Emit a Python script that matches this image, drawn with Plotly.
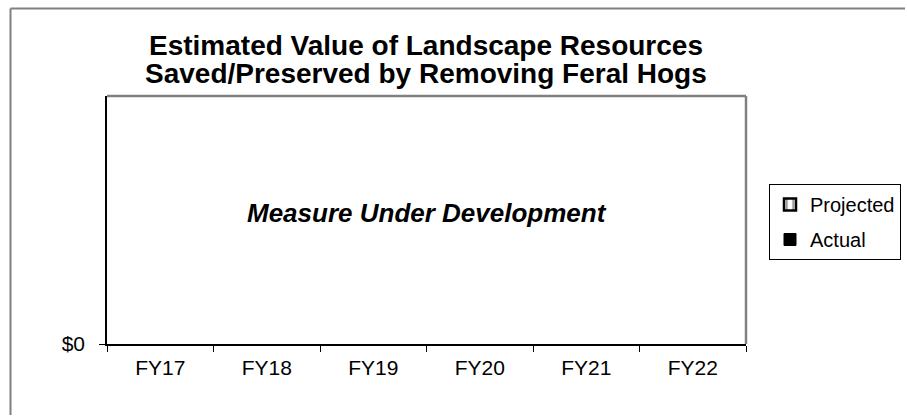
import plotly.graph_objects as go

categories = ["FY17", "FY18", "FY19", "FY20", "FY21", "FY22"]
projected = [None, None, None, None, None, None]
actual = [None, None, None, None, None, None]
y_tick_vals = [0]
y_tick_text = ["$0"]
title_lines = ["Estimated Value of Landscape Resources", "Saved/Preserved by Removing Feral Hogs"]
note_text = "Measure Under Development"

W, H = 907, 417
L, R, T, B = 107, 746, 96, 344

def px(x):
    return (x - L) / (R - L)

def py(y):
    return (B - y) / (B - T)

fig = go.Figure()
fig.add_trace(go.Bar(
    x=categories, y=projected, name="Projected", legendgroup="p",
    marker=dict(color="white", line=dict(color="black", width=2.5),
                pattern=dict(shape="|", fgcolor="black", bgcolor="white", size=8, solidity=0.25)),
))
fig.add_trace(go.Bar(
    x=categories, y=actual, name="Actual", legendgroup="a",
    marker=dict(color="black", line=dict(color="black", width=1)),
))

FONT = "Arial, Liberation Sans, sans-serif"
fig.update_layout(
    width=W, height=H,
    margin=dict(l=L, r=W - R, t=T, b=H - B, pad=0, autoexpand=False),
    paper_bgcolor="white", plot_bgcolor="white",
    font=dict(family=FONT, size=20, color="black"),
    barmode="group",
    showlegend=True,
    legend=dict(x=px(769), y=py(184), xanchor="left", yanchor="top",
                bordercolor="black", borderwidth=1, bgcolor="white",
                tracegroupgap=6, font=dict(size=20, family=FONT),
                itemwidth=30),
    xaxis=dict(type="category", showline=True, linecolor="black", linewidth=1.5,
               ticks="outside", tickson="boundaries", ticklen=6, tickcolor="black",
               tickwidth=1, showgrid=False, zeroline=False,
               tickfont=dict(size=21, family=FONT), ticklabelstandoff=4),
    yaxis=dict(range=[0, 1], showline=True, linecolor="black", linewidth=1.5,
               tickvals=y_tick_vals, ticktext=y_tick_text, ticks="outside",
               ticklen=6, tickcolor="black", showgrid=False, zeroline=False,
               tickfont=dict(size=21, family=FONT), ticklabelstandoff=10),
    shapes=[
        dict(type="line", xref="paper", yref="paper", x0=0, x1=1, y0=1, y1=1,
             line=dict(color="#808080", width=2.5)),
        dict(type="line", xref="paper", yref="paper", x0=1, x1=1, y0=0, y1=1,
             line=dict(color="#808080", width=2.5)),
        dict(type="line", xref="paper", yref="paper", x0=px(10.5), x1=px(905),
             y0=py(8.5), y1=py(8.5), line=dict(color="#808080", width=2)),
        dict(type="line", xref="paper", yref="paper", x0=px(10.5), x1=px(10.5),
             y0=py(8.5), y1=py(415), line=dict(color="#808080", width=2)),
    ],
    annotations=[
        dict(text="<b>" + title_lines[0] + "</b>", xref="paper", yref="paper",
             x=px(426), y=py(46), xanchor="center", yanchor="middle", showarrow=False,
             font=dict(size=28, family=FONT, color="black")),
        dict(text="<b>" + title_lines[1] + "</b>", xref="paper", yref="paper",
             x=px(426), y=py(73), xanchor="center", yanchor="middle", showarrow=False,
             font=dict(size=28, family=FONT, color="black")),
        dict(text="<b><i>" + note_text + "</i></b>", xref="paper", yref="paper",
             x=px(427), y=py(213), xanchor="center", yanchor="middle", showarrow=False,
             font=dict(size=26, family=FONT, color="black")),
    ],
)

fig.write_html("out.html", config={"displayModeBar": False},
               post_script="document.body.style.margin='0';document.documentElement.style.overflow='hidden';")
